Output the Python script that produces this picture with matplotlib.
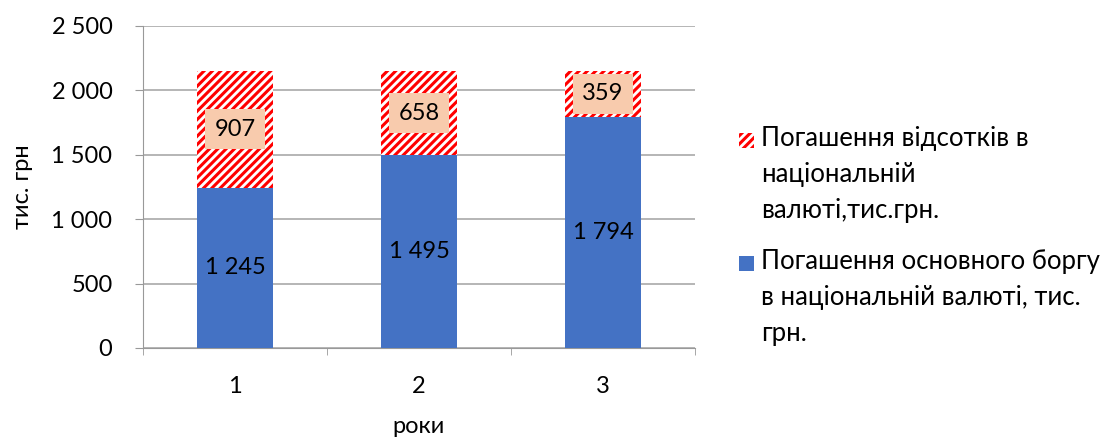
import numpy as np
import matplotlib.pyplot as plt
from matplotlib.ticker import FuncFormatter
from matplotlib.patches import Rectangle

plt.rcParams['font.family'] = ['Lato', 'DejaVu Sans']
plt.rcParams['hatch.linewidth'] = 2.2
plt.rcParams['hatch.color'] = '#FF0000'

categories = ['1', '2', '3']
principal = [1245, 1495, 1794]   # основний борг
interest = [907, 658, 359]       # відсотки
principal_lbl = 'Погашення основного боргу\nв національній валюті, тис.\nгрн.'
interest_lbl = 'Погашення відсотків в\nнаціональній\nвалюті,тис.грн.'

W, H = 1117, 441
fig = plt.figure(figsize=(W / 100, H / 100), dpi=100)
ax = fig.add_axes([143 / W, 1 - 348 / H, 552 / W, 322 / H])

x = np.arange(len(categories))
w = 0.41
ax.bar(x, principal, w, color='#4472C4', zorder=3)
ax.bar(x, interest, w, bottom=principal, color='white', edgecolor='#FF0000',
       linewidth=0, hatch='////', zorder=3)

for xi, p, q in zip(x, principal, interest):
    ax.text(xi, p / 2, f'{p:,}'.replace(',', ' '), ha='center', va='center',
            fontsize=17, zorder=5)
    ax.text(xi, p + q / 2, f'{q}', ha='center', va='center', fontsize=17, zorder=5,
            bbox=dict(boxstyle='square,pad=0.4', fc='#F8CBAD', ec='none'))

ax.set_xlim(-0.5, 2.5)
ax.set_ylim(0, 2500)
ax.set_yticks(np.arange(0, 2501, 500))
ax.yaxis.set_major_formatter(FuncFormatter(lambda v, p: f'{int(v):,}'.replace(',', ' ')))
ax.set_xticks(x)
ax.set_xticklabels(categories)
ax.set_xticks([-0.5, 0.5, 1.5, 2.5], minor=True)
ax.tick_params(axis='x', which='major', length=0, labelsize=17, pad=20)
ax.tick_params(axis='x', which='minor', length=5, direction='out', color='#999999')
ax.tick_params(axis='y', length=6, direction='out', color='#999999', labelsize=17, pad=16)

ax.grid(axis='y', color='#B0B0B0', linewidth=1.3, zorder=0)
for s in ['top', 'right']:
    ax.spines[s].set_visible(False)
for s in ['left', 'bottom']:
    ax.spines[s].set_color('#999999')

ax.set_ylabel('тис. грн', fontsize=17)
ax.yaxis.set_label_coords(-110 / 552, 0.5)
ax.set_xlabel('роки', fontsize=17)
ax.xaxis.set_label_coords(0.5, -68 / 322)

# legend drawn by hand so the marker sits at the first line
entries = [
    (interest_lbl, dict(facecolor='white', edgecolor='#FF0000', hatch='////', linewidth=0), 141),
    (principal_lbl, dict(facecolor='#4472C4', linewidth=0), 264),
]
for lbl, style, ymid in entries:
    fig.add_artist(Rectangle((739 / W, 1 - (ymid + 7) / H), 15 / W, 15 / H,
                             transform=fig.transFigure, **style))
    fig.text(761 / W, 1 - (ymid - 15) / H, lbl, fontsize=18.5, va='top', ha='left',
             linespacing=1.55, transform=fig.transFigure)

fig.savefig('out.png', dpi=100)
